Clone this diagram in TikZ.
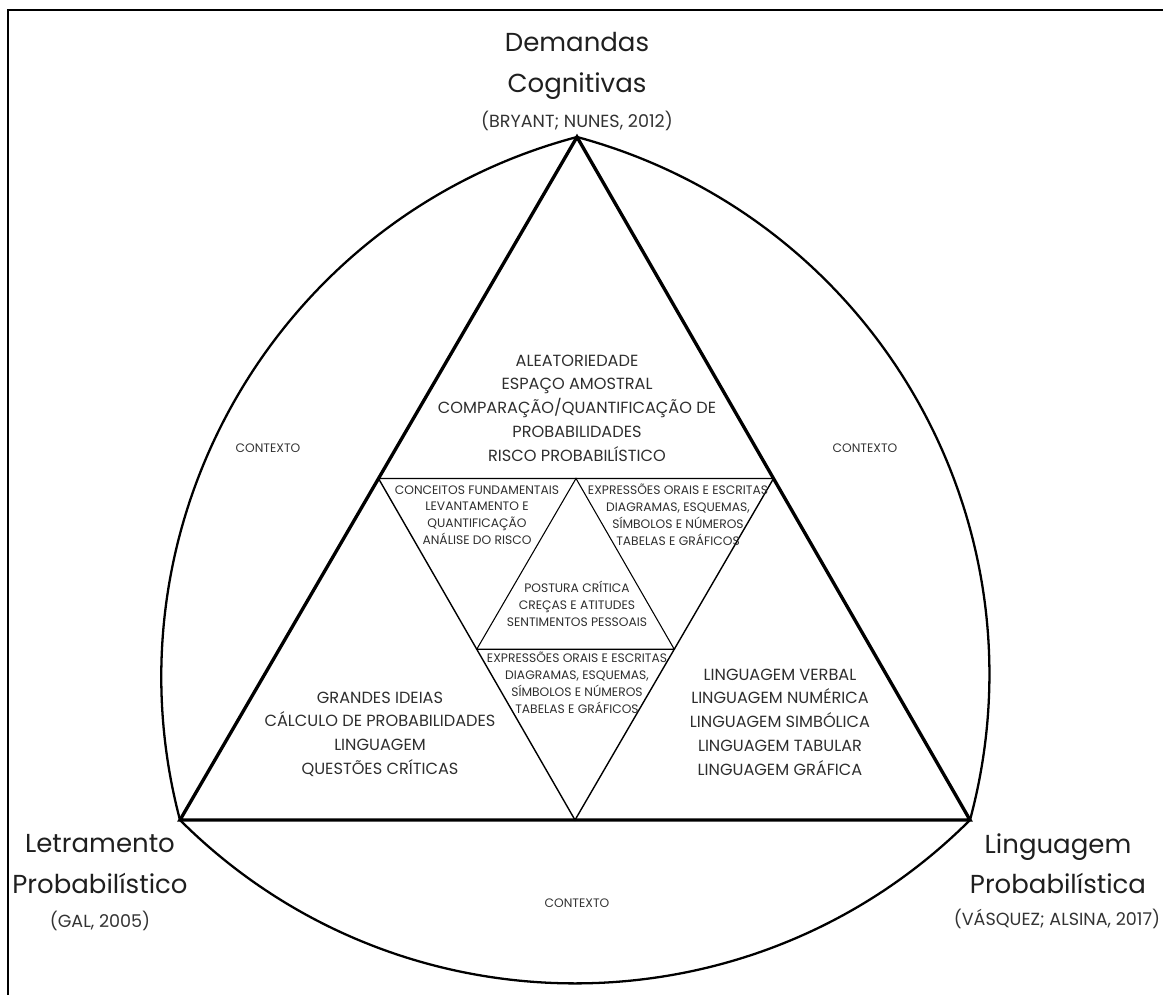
\documentclass[tikz,border=0pt]{standalone}
\usepackage{fontspec}
\setmainfont{Poppins}
\usetikzlibrary{positioning, calc}

\begin{document}
\begin{tikzpicture}[
        x=0.02cm, y=-0.02cm,
        heading/.style={font=\fontsize{14.8}{23}\selectfont, text=black!88, align=center},
        cite_text/.style={font=\fontsize{10}{12}\selectfont, text=black!80},
        block_text/.style={font=\fontsize{9.2}{13.5}\selectfont, text=black!82, align=center},
        small_text/.style={font=\fontsize{7}{9.6}\selectfont, text=black!82, align=center},
        context_text/.style={font=\fontsize{7}{8}\selectfont, text=black!80},
        outer_side/.style={line width=1.9pt, line join=miter},
        mid_side/.style={line width=0.8pt},
        inner_side/.style={line width=0.6pt},
        arc_side/.style={line width=1.3pt}
    ]

    \useasboundingbox (0,0) rectangle (1163,994);
    \clip (0,0) rectangle (1163,994);
    \draw[line width=0.8pt] (8,1100) -- (8,10) -- (1200,10);

    % vertices of the big triangle
    \coordinate (top) at (577,137);
    \coordinate (left) at (180,820);
    \coordinate (right) at (970,820);

    % midpoints
    \coordinate (ml) at ($(top)!0.5!(left)$);
    \coordinate (mr) at ($(top)!0.5!(right)$);
    \coordinate (mb) at ($(left)!0.5!(right)$);
    \coordinate (ic) at ($(ml)!0.5!(mr)$);
    \coordinate (il) at ($(ml)!0.5!(mb)$);
    \coordinate (ir) at ($(mr)!0.5!(mb)$);

    \draw[arc_side] (top) to[bend right=45] (left);
    \draw[arc_side] (left) to[bend right=45] (right);
    \draw[arc_side] (right) to[bend right=45] (top);

    \draw[outer_side] (top) -- (left) -- (right) -- cycle;
    \draw[mid_side] (ml) -- (mr) -- (mb) -- cycle;
    \draw[inner_side] (il) -- (ir) -- (ic) -- cycle;

    \node[heading] (demandas) at (577,66) {Demandas\\Cognitivas};
    \node[cite_text] (bryant) at (577,121) {(BRYANT; NUNES, 2012)};

    \node[heading] (letramento) at (100,864) {Letramento\\Probabilístico};
    \node[cite_text] (gal) at (100,921) {(GAL, 2005)};

    \node[heading] (linguagem) at (1058,864) {Linguagem\\Probabilística};
    \node[cite_text] (vasquez) at (1057,919) {(VÁSQUEZ; ALSINA, 2017)};

    \node[block_text] (conceitos) at (577,408) {ALEATORIEDADE\\ESPAÇO AMOSTRAL\\COMPARAÇÃO/QUANTIFICAÇÃO DE\\PROBABILIDADES\\RISCO PROBABILÍSTICO};
    \node[block_text] (ideias) at (380,734) {GRANDES IDEIAS\\CÁLCULO DE PROBABILIDADES\\LINGUAGEM\\QUESTÕES CRÍTICAS};
    \node[block_text] (linguagens) at (780,722) {LINGUAGEM VERBAL\\LINGUAGEM NUMÉRICA\\LINGUAGEM SIMBÓLICA\\LINGUAGEM TABULAR\\LINGUAGEM GRÁFICA};

    \node[small_text] (fundamentos) at (477,515) {CONCEITOS FUNDAMENTAIS\\LEVANTAMENTO E\\QUANTIFICAÇÃO\\ANÁLISE DO RISCO};
    \node[small_text] (expressoesA) at (678,515) {EXPRESSÕES ORAIS E ESCRITAS\\DIAGRAMAS, ESQUEMAS,\\SÍMBOLOS E NÚMEROS\\TABELAS E GRÁFICOS};
    \node[small_text] (postura) at (577,604) {POSTURA CRÍTICA\\CREÇAS E ATITUDES\\SENTIMENTOS PESSOAIS};
    \node[small_text] (expressoesB) at (577,683) {EXPRESSÕES ORAIS E ESCRITAS\\DIAGRAMAS, ESQUEMAS,\\SÍMBOLOS E NÚMEROS\\TABELAS E GRÁFICOS};

    \node[context_text] (ctxleft) at (268,448) {CONTEXTO};
    \node[context_text] (ctxright) at (865,448) {CONTEXTO};
    \node[context_text] (ctxbottom) at (577,903) {CONTEXTO};

\end{tikzpicture}
\end{document}
